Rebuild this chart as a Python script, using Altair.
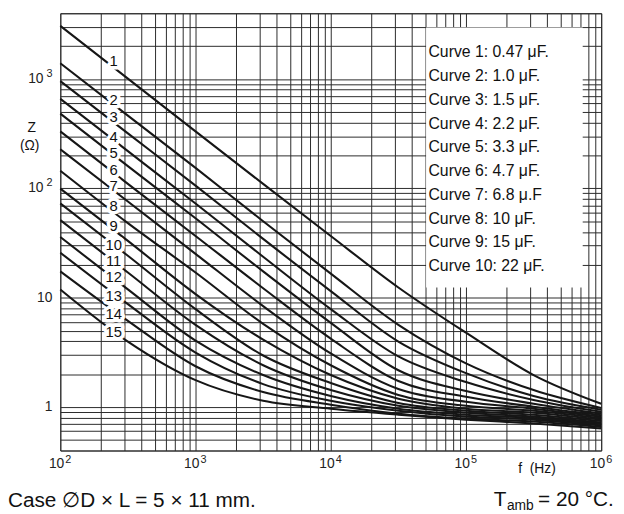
import altair as alt
import pandas as pd

# ---- data (impedance in ohm) ----
freq = [1e2, 316, 1e3, 3162, 1e4, 31623, 1e5, 316228, 1e6]

curve1 = [3070, 1010, 332, 110, 36.7, 12.4, 4.78, 1.96, 1.07]
curve2 = [1395, 463, 154, 50.1, 16.6, 5.65, 2.51, 1.43, 0.98]
curve3 = [959, 319, 106, 34.5, 11.5, 3.97, 2.04, 1.26, 0.944]
curve4 = [660, 219, 72.8, 23.7, 7.87, 2.90, 1.69, 1.16, 0.906]
curve5 = [483, 160, 53.3, 17.4, 5.89, 2.17, 1.40, 1.07, 0.869]
curve6 = [332, 110, 36.7, 12.2, 4.22, 1.73, 1.24, 1.005, 0.842]
curve7 = [228, 75.9, 25.2, 8.38, 3.09, 1.46, 1.115, 0.964, 0.817]
curve8 = [145, 48.1, 17.0, 5.77, 2.41, 1.29, 1.026, 0.925, 0.791]
curve9 = [99.5, 33.1, 10.8, 4.13, 1.96, 1.19, 0.964, 0.887, 0.767]
curve10 = [72.8, 24.2, 7.87, 2.96, 1.66, 1.09, 0.925, 0.851, 0.744]
curve11 = [51.2, 17.0, 5.65, 2.41, 1.43, 1.026, 0.887, 0.817, 0.721]
curve12 = [35.9, 11.9, 4.05, 1.96, 1.26, 0.964, 0.851, 0.791, 0.699]
curve13 = [25.8, 8.74, 3.15, 1.62, 1.14, 0.925, 0.817, 0.767, 0.677]
curve14 = [17.4, 6.14, 2.36, 1.37, 1.05, 0.869, 0.783, 0.736, 0.656]
curve15 = [11.9, 3.97, 1.76, 1.14, 0.964, 0.851, 0.767, 0.706, 0.636]

# curve number labels (placed at one frequency, on each curve)
label_freq = 248
label_z = [1454, 646, 445, 293, 210, 148, 106, 68.4, 45.1, 30.4, 21.8, 15.3, 10.3, 7.10, 4.88]
label_text = [str(i) for i in range(1, 16)]

legend_lines = [
    "Curve 1: 0.47 \u03bcF.",
    "Curve 2: 1.0 \u03bcF.",
    "Curve 3: 1.5 \u03bcF.",
    "Curve 4: 2.2 \u03bcF.",
    "Curve 5: 3.3 \u03bcF.",
    "Curve 6: 4.7 \u03bcF.",
    "Curve 7: 6.8 \u03bc.F",
    "Curve 8: 10 \u03bcF.",
    "Curve 9: 15 \u03bcF.",
    "Curve 10: 22 \u03bcF.",
]
# legend box extent (frequency, impedance)
box_f = [5.07e4, 7.3e5]
box_z = [12.4, 2960]

# tick labels
x_lab_f = [1e2, 1e3, 1e4, 1e5, 1e6]
x_lab_exp = ["2", "3", "4", "5", "6"]
y_pow_z = [1000, 100]
y_pow_exp = ["3", "2"]
y_plain_z = [10, 1]
y_plain_text = ["10", "1"]

# grid positions (1..9 per decade)
x_grid = [m * 10 ** e for e in range(2, 6) for m in range(1, 10)] + [10 ** 6]
y_grid = [0.4, 0.5, 0.6, 0.7, 0.8, 0.9] + [m * 10 ** e for e in range(0, 3) for m in range(1, 10)] + [1000, 2000, 3000, 4000]

FONT = "Liberation Sans, DejaVu Sans, sans-serif"

curves = [curve1, curve2, curve3, curve4, curve5, curve6, curve7, curve8,
          curve9, curve10, curve11, curve12, curve13, curve14, curve15]
rows = []
for i, zs in enumerate(curves, start=1):
    for f, z in zip(freq, zs):
        rows.append({"curve": i, "f": f, "z": z})
df = pd.DataFrame(rows)

xscale = alt.Scale(type="log", domain=[100, 1e6], nice=False)
yscale = alt.Scale(type="log", domain=[0.4, 4000], nice=False)
x_axis = alt.Axis(values=x_grid, grid=True, labels=False, ticks=False, domain=False,
                  title=None, gridColor="#2b2b2b", gridWidth=1, gridOpacity=1)
y_axis = alt.Axis(values=y_grid, grid=True, labels=False, ticks=False, domain=False,
                  title=None, gridColor="#2b2b2b", gridWidth=1, gridOpacity=1)


def X(field):
    return alt.X(field, type="quantitative", scale=xscale, axis=x_axis)


def Y(field):
    return alt.Y(field, type="quantitative", scale=yscale, axis=y_axis)


box_df = pd.DataFrame({"f1": [box_f[0]], "f2": [box_f[1]], "z1": [box_z[0]], "z2": [box_z[1]]})
box = alt.Chart(box_df).mark_rect(color="white").encode(
    x=X("f1"), x2="f2", y=Y("z1"), y2="z2")

lines = alt.Chart(df).mark_line(interpolate="monotone", color="#161616", strokeWidth=2.1).encode(
    x=X("f"), y=Y("z"), detail="curve:N")

lab_df = pd.DataFrame({"f": [label_freq] * len(label_z), "z": label_z, "t": label_text})
halo = alt.Chart(lab_df).mark_text(fontSize=15, color="white", stroke="white", strokeWidth=7,
                                   strokeJoin="round", baseline="middle", align="center").encode(
    x=X("f"), y=Y("z"), text="t:N")
labels = alt.Chart(lab_df).mark_text(fontSize=15, color="#111", baseline="middle", align="center").encode(
    x=X("f"), y=Y("z"), text="t:N")

leg_df = pd.DataFrame({"t": ["\n".join(legend_lines)]})
legend = alt.Chart(leg_df).mark_text(fontSize=16, color="#111", align="left", baseline="alphabetic",
                                     lineBreak="\n", lineHeight=24.1).encode(
    x=alt.value(373), y=alt.value(44.5), text="t:N")

xl_df = pd.DataFrame({"f": x_lab_f, "e": x_lab_exp})
xbase = alt.Chart(xl_df).mark_text(fontSize=14, color="#222", align="right", baseline="middle", dx=4).encode(
    x=X("f"), y=alt.value(456.7), text=alt.value("10"))
xexp = alt.Chart(xl_df).mark_text(fontSize=11, color="#222", align="left", baseline="middle", dx=5, dy=-4.5).encode(
    x=X("f"), y=alt.value(456.7), text="e:N")

yp_df = pd.DataFrame({"z": y_pow_z, "e": y_pow_exp})
ybase = alt.Chart(yp_df).mark_text(fontSize=14, color="#222", align="right", baseline="middle").encode(
    x=alt.value(-17), y=Y("z"), text=alt.value("10"))
yexp = alt.Chart(yp_df).mark_text(fontSize=11, color="#222", align="right", baseline="middle", dy=-5).encode(
    x=alt.value(-8), y=Y("z"), text="e:N")
ypl_df = pd.DataFrame({"z": y_plain_z, "t": y_plain_text})
yplain = alt.Chart(ypl_df).mark_text(fontSize=14, color="#222", align="right", baseline="middle").encode(
    x=alt.value(-8), y=Y("z"), text="t:N")

one = pd.DataFrame({"a": [0]})


def note(txt, x, y, size, align="center", baseline="middle"):
    return alt.Chart(one).mark_text(fontSize=size, color="#111", align=align, baseline=baseline).encode(
        x=alt.value(x), y=alt.value(y), text=alt.value(txt))


ztitle = note("Z", -29, 116.7, 14)
zunit = note("(\u03a9)", -31, 134.7, 14)
ftitle = note("f\u00a0 (Hz)", 483, 462, 14)
case_txt = note("Case \u2205D \u00d7 L = 5 \u00d7 11 mm.", -53, 500.5, 21, align="left", baseline="alphabetic")
t_main = note("T", 452, 499.5, 21, align="right", baseline="alphabetic")
t_sub = note("amb", 452.5, 503, 14, align="left", baseline="alphabetic")
t_rest = note("= 20 \u00b0C.", 484, 499.5, 21, align="left", baseline="alphabetic")

chart = alt.layer(
    box, lines, halo, labels, legend, xbase, xexp, ybase, yexp, yplain,
    ztitle, zunit, ftitle, case_txt, t_main, t_sub, t_rest,
).properties(
    width=548, height=443,
    padding={"left": 53, "top": 2, "right": 15, "bottom": 61},
    autosize=alt.AutoSizeParams(type="none"),
).configure(font=FONT).configure_view(stroke="#333", strokeWidth=1)

chart.save("out.html", embed_options={"renderer": "svg", "actions": False})
